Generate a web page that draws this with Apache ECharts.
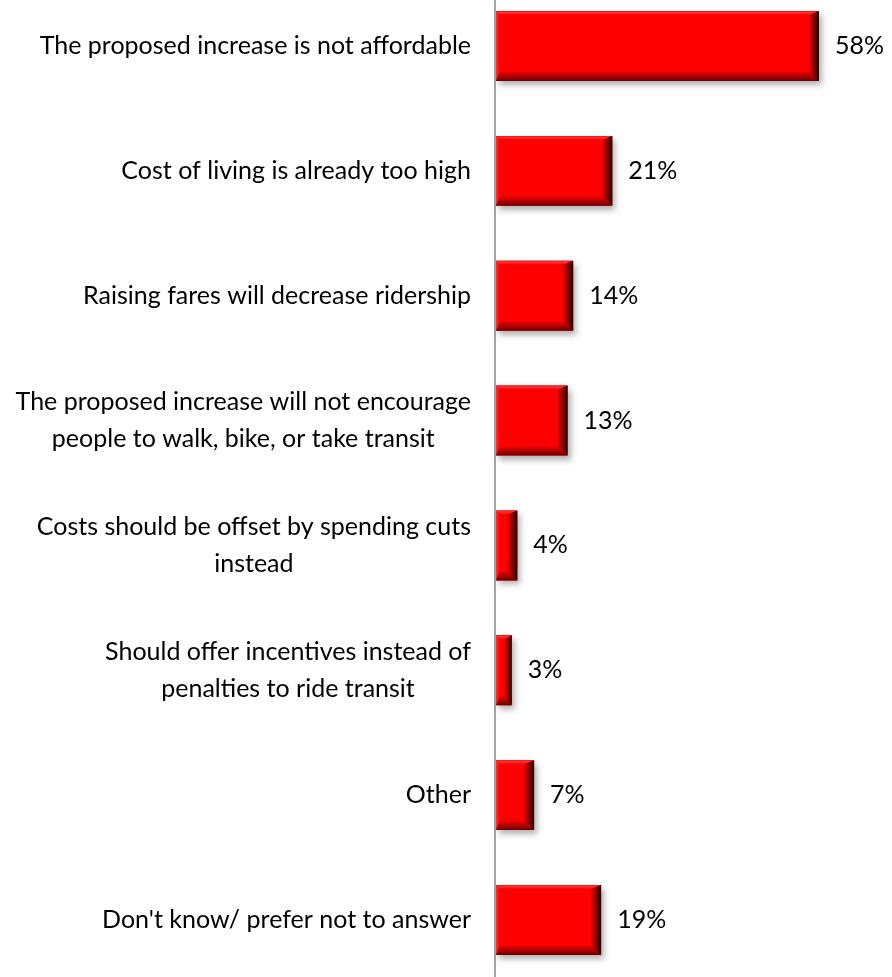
<!DOCTYPE html>
<html>
<head>
<meta charset="utf-8">
<script src="https://cdn.jsdelivr.net/npm/echarts@6/dist/echarts.min.js"></script>
<style>
html,body{margin:0;padding:0;background:#fff;}
#chart{width:892px;height:977px;}
</style>
</head>
<body>
<div id="chart"></div>
<script>
const categories = [
  "The proposed increase is not affordable",
  "Cost of living is already too high",
  "Raising fares will decrease ridership",
  "The proposed increase will not encourage\npeople to walk, bike, or take transit",
  "Costs should be offset by spending cuts\ninstead",
  "Should offer incentives instead of\npenalties to ride transit",
  "Other",
  "Don't know/ prefer not to answer"
];
const values = [58, 21, 14, 13, 4, 3, 7, 19];

const FONT_FAMILY = 'Lato';
const FONT_SIZE = 25;

const chart = echarts.init(document.getElementById('chart'), null, {renderer: 'canvas'});

function renderItem(params, api) {
  const idx = api.value(0);
  const v = api.value(1);
  const start = api.coord([0, idx]);
  const end = api.coord([v, idx]);
  const band = api.size([0, 1])[1];
  const h = band * 0.56;
  const x0 = start[0] + 1;
  const x1 = end[0];
  const yc = start[1];
  const y0 = yc - h / 2;
  const y1 = yc + h / 2;
  const w = x1 - x0;
  const br = Math.min(10, w / 2.2);
  const bl = Math.min(4, w / 4);
  const bt = 4;
  const bb = 9;
  const LG = echarts.graphic.LinearGradient;
  return {
    type: 'group',
    children: [
      {
        type: 'rect',
        shape: {x: x0, y: y0, width: w, height: h},
        style: {
          fill: '#ff0000',
          shadowBlur: 6,
          shadowOffsetX: 3,
          shadowOffsetY: 4,
          shadowColor: 'rgba(0,0,0,0.3)'
        }
      },
      {
        type: 'polygon',
        shape: {points: [[x0, y0], [x0 + bl, y0 + bt], [x0 + bl, y1 - bb], [x0, y1]]},
        style: {fill: new LG(0, 0, 1, 0, [{offset: 0, color: '#ff3030'}, {offset: 1, color: '#ff0000'}])}
      },
      {
        type: 'polygon',
        shape: {points: [[x0, y0], [x1, y0], [x1 - br, y0 + bt], [x0 + bl, y0 + bt]]},
        style: {fill: new LG(0, 0, 0, 1, [{offset: 0, color: '#e00000'}, {offset: 0.3, color: '#ff3a3a'}, {offset: 1, color: '#ff0000'}])}
      },
      {
        type: 'polygon',
        shape: {points: [[x1, y0], [x1 - br, y0 + bt], [x1 - br, y1 - bb], [x1, y1]]},
        style: {fill: new LG(0, 0, 1, 0, [{offset: 0, color: '#e80000'}, {offset: 0.55, color: '#800000'}, {offset: 1, color: '#180000'}])}
      },
      {
        type: 'polygon',
        shape: {points: [[x0, y1], [x1, y1], [x1 - br, y1 - bb], [x0 + bl, y1 - bb]]},
        style: {fill: new LG(0, 0, 0, 1, [{offset: 0, color: '#e80000'}, {offset: 0.6, color: '#a00000'}, {offset: 1, color: '#680000'}])}
      },
      {
        type: 'text',
        x: x1 + 16,
        y: yc,
        style: {
          text: v + '%',
          fill: '#000',
          font: FONT_SIZE + 'px ' + FONT_FAMILY,
          align: 'left',
          verticalAlign: 'middle'
        }
      }
    ]
  };
}

const option = {
  backgroundColor: '#ffffff',
  animation: false,
  grid: {left: 495, right: 6, top: -16.4, bottom: -5.4, containLabel: false, outerBoundsMode: 'none'},
  xAxis: {
    type: 'value',
    min: 0,
    max: 70,
    show: false,
    splitLine: {show: false}
  },
  yAxis: {
    type: 'category',
    inverse: true,
    data: categories,
    axisLine: {show: true, lineStyle: {color: '#a6a6a6', width: 2}},
    axisTick: {show: false},
    splitLine: {show: false},
    axisLabel: {
      margin: 24,
      color: '#000',
      formatter: function (val) {
        return val.split('\n').map(function (l) { return '{c|' + l + '}'; }).join('\n');
      },
      rich: {
        c: {
          align: 'center',
          fontFamily: FONT_FAMILY,
          fontSize: FONT_SIZE,
          lineHeight: 37,
          color: '#000'
        }
      }
    }
  },
  series: [{
    type: 'custom',
    renderItem: renderItem,
    encode: {x: 1, y: 0},
    clip: false,
    data: values.map(function (v, i) { return [i, v]; })
  }]
};

chart.setOption(option);
</script>
</body>
</html>
